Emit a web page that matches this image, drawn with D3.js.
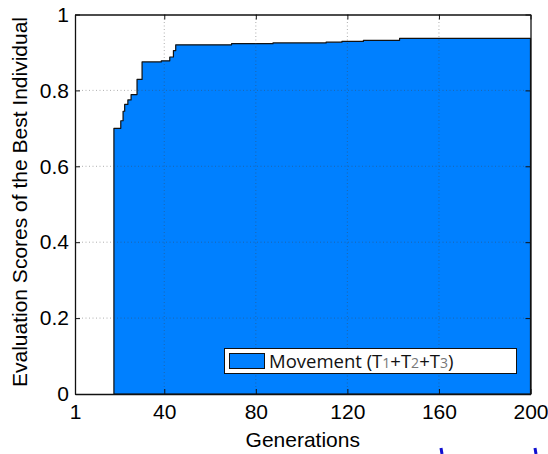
<!doctype html>
<html lang="en">
  <head>
    <meta charset="UTF-8" />
    <title>Evaluation Scores</title>
    <script src="https://d3js.org/d3.v7.min.js"></script>
    <style>
      html,
      body {
        margin: 0;
        padding: 0;
        background: #fff;
        overflow: hidden;
      }
      svg {
        display: block;
      }
      .tick text {
        font-family: Arial, "Liberation Sans", sans-serif;
        font-size: 21px;
        fill: #000;
      }
    </style>
  </head>
  <body>
    <svg id="chart" width="548" height="454"></svg>

    <script>
      // step points of the best score (generation where a new value starts)
      const generations = [18, 21, 22, 22.7, 24.1, 25.5, 28.1, 30.3, 38.7, 42.4, 44, 45, 69.4, 87.5, 110.7, 117.6, 127, 142.8, 200];
      const scores = [0.70, 0.72, 0.745, 0.763, 0.775, 0.789, 0.829, 0.875, 0.878, 0.888, 0.905, 0.92, 0.923, 0.925, 0.927, 0.929, 0.932, 0.937, 0.937];
      const xTicks = [1, 40, 80, 120, 160, 200];
      const yTicks = [0, 0.2, 0.4, 0.6, 0.8, 1];
      const seriesName = ["Movement (T", "1", "+T", "2", "+T", "3", ")"];

      const margin = { left: 75, right: 17.5, top: 14.5, bottom: 60 };
      const width = 548, height = 454;
      const svg = d3.select("#chart");

      const x = d3.scaleLinear().domain([1, 200]).range([margin.left, width - margin.right]);
      const y = d3.scaleLinear().domain([0, 1]).range([height - margin.bottom, margin.top]);

      const data = generations.map((g, i) => ({ g: g, s: scores[i] }));

      // filled area
      const area = d3.area()
        .x((d) => x(d.g))
        .y0(y(0))
        .y1((d) => y(d.s))
        .curve(d3.curveStepAfter);

      svg.append("path")
        .datum(data)
        .attr("d", area)
        .attr("fill", "#0080ff")
        .attr("stroke", "#111")
        .attr("stroke-width", 1.2)
        .attr("stroke-linejoin", "round");

      // dotted grid drawn over the fill
      const grid = svg.append("g")
        .attr("stroke", "#444")
        .attr("stroke-width", 0.7)
        .attr("stroke-dasharray", "1,2.5")
        .attr("opacity", 0.6);
      grid.selectAll(".gx")
        .data(xTicks.slice(1, -1))
        .enter()
        .append("line")
        .attr("x1", (d) => x(d)).attr("x2", (d) => x(d))
        .attr("y1", y(0)).attr("y2", y(1));
      grid.selectAll(".gy")
        .data(yTicks.slice(1, -1))
        .enter()
        .append("line")
        .attr("x1", x(1)).attr("x2", x(200))
        .attr("y1", (d) => y(d)).attr("y2", (d) => y(d));

      // axes, ticks pointing inward like matlab
      const xAxis = svg.append("g")
        .attr("transform", `translate(0,${y(0)})`)
        .call(d3.axisBottom(x).tickValues(xTicks).tickSizeInner(-5).tickSizeOuter(0).tickPadding(9));
      const xTop = svg.append("g")
        .attr("transform", `translate(0,${y(1)})`)
        .call(d3.axisTop(x).tickValues(xTicks).tickSizeInner(-5).tickSizeOuter(0).tickFormat(""));
      const yAxis = svg.append("g")
        .attr("transform", `translate(${x(1)},0)`)
        .call(d3.axisLeft(y).tickValues(yTicks).tickSizeInner(-5).tickSizeOuter(0).tickPadding(6)
          .tickFormat((d) => (d === 0 || d === 1 ? d3.format("d")(d) : d3.format(".1f")(d))));
      const yRight = svg.append("g")
        .attr("transform", `translate(${x(200)},0)`)
        .call(d3.axisRight(y).tickValues(yTicks).tickSizeInner(-5).tickSizeOuter(0).tickFormat(""));

      [xAxis, xTop, yAxis, yRight].forEach((a) => {
        a.select(".domain").attr("stroke", "#111").attr("stroke-width", 1.3);
        a.selectAll(".tick line").attr("stroke", "#111");
      });
      xAxis.selectAll(".tick text").attr("y", 25).attr("dy", "0");

      // axis titles
      svg.append("text")
        .attr("x", (x(1) + x(200)) / 2)
        .attr("y", 446.5)
        .attr("text-anchor", "middle")
        .style("font-family", "Arial, 'Liberation Sans', sans-serif")
        .style("font-size", "21px")
        .text("Generations");

      svg.append("text")
        .attr("transform", `translate(27,202) rotate(-90)`)
        .attr("text-anchor", "middle")
        .style("font-family", "Arial, 'Liberation Sans', sans-serif")
        .style("font-size", "21px")
        .text("Evaluation Scores of the Best Individual");

      // legend
      const lg = svg.append("g");
      lg.append("rect")
        .attr("x", 224.5).attr("y", 348.5).attr("width", 292).attr("height", 25)
        .attr("fill", "#fff").attr("stroke", "#111").attr("stroke-width", 1);
      lg.append("rect")
        .attr("x", 229.5).attr("y", 353.5).attr("width", 35).attr("height", 15)
        .attr("fill", "#0080ff").attr("stroke", "#111").attr("stroke-width", 1);
      const lt = lg.append("text")
        .attr("x", 269).attr("y", 368)
        .style("font-family", "'Open Sans', 'Noto Sans', sans-serif")
        .style("font-size", "18.5px")
        .attr("fill", "#111");
      lt.selectAll("tspan")
        .data(seriesName)
        .enter()
        .append("tspan")
        .style("font-size", (d, i) => (i % 2 === 1 && i < 6 ? "14px" : "18.5px"))
        .attr("fill", (d, i) => (i % 2 === 1 && i < 6 ? "#777" : "#111"))
        .text((d) => d);

      // bits of the next figure peeking in at the bottom edge
      svg.append("g")
        .selectAll("line")
        .data([441, 535])
        .enter()
        .append("line")
        .attr("x1", (d) => d).attr("x2", (d) => d + 1)
        .attr("y1", 448).attr("y2", 454)
        .attr("stroke", "#1010d0").attr("stroke-width", 3);
    </script>
  </body>
</html>
